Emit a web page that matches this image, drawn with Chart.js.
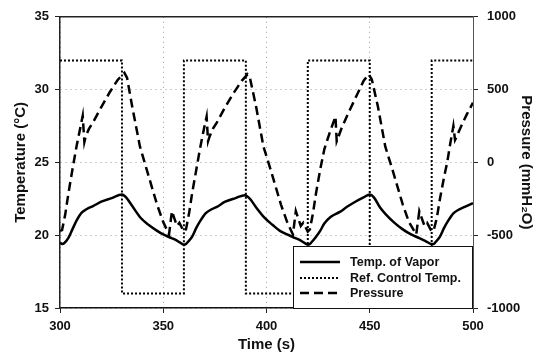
<!DOCTYPE html>
<html>
<head>
<meta charset="utf-8">
<script src="https://cdn.jsdelivr.net/npm/chart.js@4/dist/chart.umd.min.js"></script>
<style>
  html, body { margin: 0; padding: 0; background: #fff; }
  #wrap { width: 546px; height: 352px; }
</style>
</head>
<body>
<div id="wrap"><canvas id="chart" width="546" height="352"></canvas></div>
<script>
// Temp. of Vapor (left axis, °C)
const vaporTime = [300, 301, 302, 304, 306, 308, 310.5, 313, 316, 320, 325, 330, 332, 335, 339, 343, 346.5, 350, 354, 357, 360,
    361, 362, 364, 366, 368, 370.5, 373, 376, 380, 385, 389.5, 392, 395, 399, 403, 406.5, 410, 414, 417, 420,
    421, 422, 424, 426, 428, 431, 435.5, 439, 443, 447, 450, 452, 455, 458, 462, 466, 470, 474, 477, 480,
    481, 482, 484, 486, 488, 490.5, 493, 496, 500];
const vaporTemp = [19.5, 19.4, 19.45, 19.8, 20.4, 21.0, 21.55, 21.8, 22.0, 22.3, 22.55, 22.8, 22.6, 22.0, 21.2, 20.7, 20.35, 20.05, 19.8, 19.6, 19.35,
    19.4, 19.55, 19.9, 20.5, 21.0, 21.5, 21.75, 21.95, 22.3, 22.55, 22.75, 22.5, 21.9, 21.2, 20.7, 20.3, 20.05, 19.8, 19.6, 19.35,
    19.4, 19.55, 19.9, 20.3, 20.8, 21.25, 21.6, 21.95, 22.3, 22.6, 22.8, 22.6, 21.9, 21.4, 20.85, 20.4, 20.05, 19.8, 19.6, 19.4,
    19.4, 19.55, 19.9, 20.5, 21.0, 21.5, 21.75, 21.95, 22.2];

// Ref. Control Temp. (left axis, °C) - square wave
const refTime = [300, 330, 330, 360, 360, 390, 390, 420, 420, 450, 450, 480, 480, 500];
const refTemp = [32, 32, 16, 16, 32, 32, 16, 16, 32, 32, 16, 16, 32, 32];

// Pressure (right axis, mmH2O)
const pressTime = [300, 301, 302.5, 304, 306, 308, 310, 311, 311.8, 312.5, 314, 316, 320, 324, 328, 331.2, 332.5, 335, 338.7, 342, 347, 350, 352.8, 354.2, 356.6, 357.8, 360,
    361, 362.5, 364, 366, 368, 370, 371, 371.7, 372.5, 374, 376, 380, 384, 388, 390.8, 392, 395, 398.5, 402, 407, 410, 412.8, 414.2, 416.6, 417.8, 420,
    421, 422.5, 424, 426, 428, 430.5, 433.4, 434, 434.8, 436.5, 440, 444, 447, 449.5, 451, 454, 457.5, 461, 466, 469, 472.5, 474, 476.5, 477.8, 480,
    481, 482.5, 484, 486, 487.5, 489, 490.5, 491.3, 492, 494, 497, 500];
const pressVal = [-470, -465, -360, -220, -50, 110, 250, 320, 140, 180, 230, 275, 380, 480, 568, 615, 580, 380, 110, -50, -290, -410, -495, -335, -436, -415, -475,
    -460, -350, -210, -50, 110, 250, 315, 145, 180, 230, 275, 380, 475, 560, 605, 580, 380, 110, -50, -290, -410, -495, -335, -436, -415, -475,
    -460, -350, -210, -50, 90, 200, 315, 145, 175, 240, 350, 470, 560, 605, 570, 380, 110, -50, -290, -410, -495, -335, -436, -415, -475,
    -465, -380, -250, -100, 0, 130, 250, 155, 175, 240, 330, 410];

const seriesLabels = ['Temp. of Vapor', 'Ref. Control Temp.', 'Pressure'];

const toPoints = (xs, ys) => xs.map((x, i) => ({ x: x, y: ys[i] }));

const FONT = 'Liberation Sans, Arial, sans-serif';
const gridStyle = {
    color: '#9a9a9a',
    lineWidth: 1,
    tickLength: 5,
    tickColor: '#222',
    tickWidth: 1,
    tickBorderDash: []
};
const tickFont = { family: FONT, size: 13, weight: 'bold' };
const plainNumber = v => String(v);

// white boxed legend sitting in the lower right corner of the plot
const boxLegend = {
    id: 'boxLegend',
    afterDraw(chart) {
        const ctx = chart.ctx;
        const area = chart.chartArea;
        const x0 = 293, y0 = 246;
        ctx.save();
        ctx.fillStyle = '#fff';
        ctx.fillRect(x0, y0, area.right - x0, area.bottom - y0);
        ctx.strokeStyle = '#111';
        ctx.lineWidth = 1;
        ctx.strokeRect(x0 + 0.5, y0 + 0.5, area.right - x0 - 1, area.bottom - y0);
        const rows = [262, 278, 293];
        chart.data.datasets.forEach((ds, i) => {
            ctx.strokeStyle = ds.borderColor;
            ctx.lineWidth = ds.borderWidth;
            ctx.setLineDash(ds.borderDash || []);
            ctx.beginPath();
            ctx.moveTo(300, rows[i]);
            ctx.lineTo(340, rows[i]);
            ctx.stroke();
            ctx.setLineDash([]);
            ctx.fillStyle = '#111';
            ctx.font = 'bold 12.5px ' + FONT;
            ctx.textBaseline = 'middle';
            ctx.fillText(ds.label, 350, rows[i] + 0.5);
        });
        // top frame line
        ctx.strokeStyle = '#222';
        ctx.lineWidth = 1.5;
        ctx.beginPath();
        ctx.moveTo(area.left, area.top);
        ctx.lineTo(area.right, area.top);
        ctx.stroke();
        ctx.restore();
    }
};

new Chart(document.getElementById('chart'), {
    type: 'line',
    data: {
        datasets: [
            {
                label: seriesLabels[0],
                data: toPoints(vaporTime, vaporTemp),
                yAxisID: 'y',
                borderColor: '#000',
                borderWidth: 2.5,
                cubicInterpolationMode: 'monotone',
                pointRadius: 0
            },
            {
                label: seriesLabels[1],
                data: toPoints(refTime, refTemp),
                yAxisID: 'y',
                borderColor: '#000',
                borderWidth: 2,
                borderDash: [2, 2],
                tension: 0,
                pointRadius: 0
            },
            {
                label: seriesLabels[2],
                data: toPoints(pressTime, pressVal),
                yAxisID: 'y2',
                borderColor: '#000',
                borderWidth: 2.5,
                borderDash: [9, 5],
                tension: 0,
                pointRadius: 0
            }
        ]
    },
    options: {
        responsive: false,
        animation: false,
        layout: { padding: { top: 16, left: 0, right: 0, bottom: 0 } },
        plugins: { legend: { display: false }, tooltip: { enabled: false } },
        scales: {
            x: {
                type: 'linear',
                min: 300,
                max: 500,
                ticks: { stepSize: 50, padding: 6, color: '#111', font: tickFont, callback: plainNumber },
                grid: gridStyle,
                border: { display: true, color: '#111', width: 1.5, dash: [1, 4] },
                title: { display: true, text: 'Time (s)', color: '#111', padding: { top: 0, bottom: 0 }, font: { family: FONT, size: 15, weight: 'bold', lineHeight: 1 } },
                afterFit: s => { s.height = 44; }
            },
            y: {
                position: 'left',
                min: 15,
                max: 35,
                ticks: { stepSize: 5, padding: 6, color: '#111', font: tickFont, callback: plainNumber },
                grid: gridStyle,
                border: { display: true, color: '#222', width: 1.5, dash: [1, 4] },
                title: { display: true, text: 'Temperature (°C)', color: '#111', padding: { top: 12, bottom: 0 }, font: { family: FONT, size: 15, weight: 'bold', lineHeight: 1.2 } },
                afterFit: s => { s.width = 60; }
            },
            y2: {
                position: 'right',
                min: -1000,
                max: 1000,
                ticks: { stepSize: 500, padding: 9, color: '#111', font: tickFont, callback: plainNumber },
                grid: Object.assign({}, gridStyle, { drawOnChartArea: false }),
                border: { display: true, color: '#555', width: 1 },
                title: { display: true, text: 'Pressure (mmH₂O)', color: '#111', padding: { top: 11, bottom: 0 }, font: { family: FONT, size: 15, weight: 'bold', lineHeight: 1.2 } },
                afterFit: s => { s.width = 73; }
            }
        }
    },
    plugins: [boxLegend]
});
</script>
</body>
</html>
